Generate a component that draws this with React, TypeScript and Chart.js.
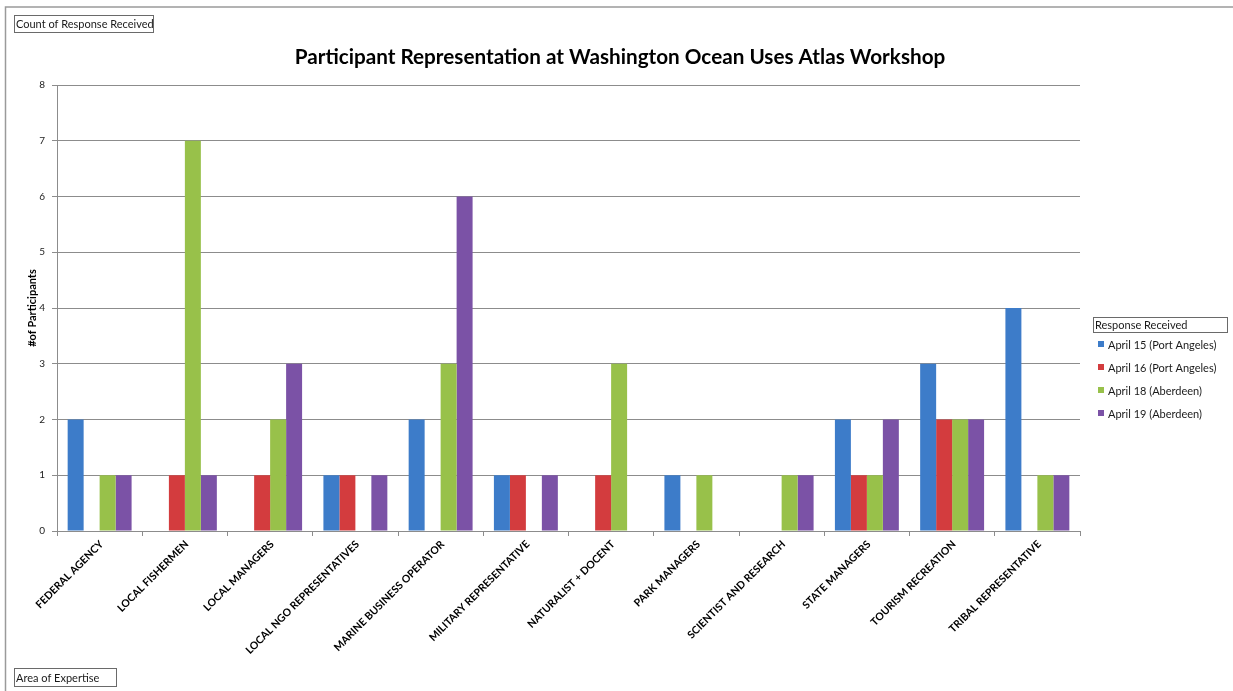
import React, { useEffect, useRef } from "react";
import { Chart, registerables } from "chart.js";

Chart.register(...registerables);

const categories = [
  "FEDERAL AGENCY",
  "LOCAL FISHERMEN",
  "LOCAL MANAGERS",
  "LOCAL NGO REPRESENTATIVES",
  "MARINE BUSINESS OPERATOR",
  "MILITARY REPRESENTATIVE",
  "NATURALIST + DOCENT",
  "PARK MANAGERS",
  "SCIENTIST AND RESEARCH",
  "STATE MANAGERS",
  "TOURISM RECREATION",
  "TRIBAL REPRESENTATIVE",
];

const april15PortAngeles = [2, 0, 0, 1, 2, 1, 0, 1, 0, 2, 3, 4];
const april16PortAngeles = [0, 1, 1, 1, 0, 1, 1, 0, 0, 1, 2, 0];
const april18Aberdeen = [1, 7, 2, 0, 3, 0, 3, 1, 1, 1, 2, 1];
const april19Aberdeen = [1, 1, 3, 1, 6, 1, 0, 0, 1, 2, 2, 1];

const seriesNames = [
  "April 15 (Port Angeles)",
  "April 16 (Port Angeles)",
  "April 18 (Aberdeen)",
  "April 19 (Aberdeen)",
];
const seriesColors = ["#3d7cc9", "#d33c3e", "#98c14a", "#7b52a6"];

const yTicks = [0, 1, 2, 3, 4, 5, 6, 7, 8];

const chartTitle = "Participant Representation at Washington Ocean Uses Atlas Workshop";
const yAxisTitle = "#of Participants";
const valueFieldLabel = "Count of Response Received";
const categoryFieldLabel = "Area of Expertise";
const legendTitle = "Response Received";

const FONT = "Lato, 'Open Sans', sans-serif";
const GRID = "#8c8c8c";

// Draws the outer frame, the title, the field buttons and the boxed legend.
const decorations = {
  id: "decorations",
  afterDraw(chart: any) {
    const ctx = chart.ctx as CanvasRenderingContext2D;
    ctx.save();

    // outer frame
    ctx.strokeStyle = "#9a9a9a";
    ctx.lineWidth = 1.5;
    ctx.strokeRect(5.5, 7, 1240, 700);

    // chart title
    ctx.fillStyle = "#000000";
    ctx.font = `bold 20.7px ${FONT}`;
    ctx.textAlign = "center";
    ctx.textBaseline = "middle";
    ctx.fillText(chartTitle, 620, 57);

    const boxLabel = (text: string, x: number, y: number, w: number, h: number) => {
      ctx.fillStyle = "#ffffff";
      ctx.fillRect(x, y, w, h);
      ctx.strokeStyle = "#6a6a6a";
      ctx.lineWidth = 1;
      ctx.strokeRect(x + 0.5, y + 0.5, w, h);
      ctx.fillStyle = "#1a1a1a";
      ctx.font = `11px ${FONT}`;
      ctx.textAlign = "left";
      ctx.textBaseline = "middle";
      ctx.fillText(text, x + 2, y + h / 2 + 1);
    };

    boxLabel(valueFieldLabel, 14, 15, 139, 17);
    boxLabel(categoryFieldLabel, 14, 668, 102, 18);

    // legend
    boxLabel(legendTitle, 1093, 317, 134, 15);
    const datasets = chart.data.datasets;
    datasets.forEach((ds: any, i: number) => {
      const cy = 344 + i * 23;
      ctx.fillStyle = ds.backgroundColor;
      ctx.fillRect(1098, cy - 3, 6, 6);
      ctx.fillStyle = "#1a1a1a";
      ctx.font = `11px ${FONT}`;
      ctx.textAlign = "left";
      ctx.textBaseline = "middle";
      ctx.fillText(ds.label, 1108, cy + 1);
    });

    ctx.restore();
  },
};

export default function App() {
  const canvasRef = useRef<HTMLCanvasElement | null>(null);

  useEffect(() => {
    document.body.style.margin = "0";
    document.body.style.background = "#ffffff";
    const canvas = canvasRef.current;
    if (!canvas) return;

    const seriesValues = [april15PortAngeles, april16PortAngeles, april18Aberdeen, april19Aberdeen];

    const chart = new Chart(canvas, {
      type: "bar",
      data: {
        labels: categories,
        datasets: seriesValues.map((values, i) => ({
          label: seriesNames[i],
          data: values,
          backgroundColor: seriesColors[i],
          borderWidth: 0,
          categoryPercentage: 0.75,
          barPercentage: 1.0,
        })),
      },
      options: {
        responsive: false,
        animation: false,
        devicePixelRatio: 1,
        layout: { padding: { top: 85, right: 153, bottom: 0, left: 0 } },
        plugins: {
          legend: { display: false },
          tooltip: { enabled: false },
          title: { display: false },
        },
        scales: {
          x: {
            grid: {
              display: true,
              drawOnChartArea: false,
              drawTicks: true,
              tickLength: 5,
              color: GRID,
              offset: true,
            },
            border: { color: GRID, width: 1 },
            ticks: {
              autoSkip: false,
              minRotation: 45,
              maxRotation: 45,
              padding: 2,
              labelOffset: 2,
              color: "#000000",
              font: { family: FONT, size: 10.5, weight: "bold" },
            },
            afterFit: (s: any) => {
              s.height = 160;
            },
          },
          y: {
            min: 0,
            max: 8,
            afterBuildTicks: (s: any) => {
              s.ticks = yTicks.map((v) => ({ value: v }));
            },
            grid: { color: GRID, lineWidth: 1, tickLength: 5, drawTicks: true },
            border: { color: GRID, width: 1 },
            ticks: {
              padding: 7,
              color: "#222222",
              font: { family: FONT, size: 10 },
            },
            title: {
              display: true,
              text: yAxisTitle,
              color: "#000000",
              font: { family: FONT, size: 11, weight: "bold", lineHeight: 1.2 },
              padding: { top: 25.4, bottom: 0 },
            },
            afterFit: (s: any) => {
              s.width = 57;
            },
          },
        },
      },
      plugins: [decorations],
    });

    return () => chart.destroy();
  }, []);

  return (
    <div style={{ width: 1233, height: 691, position: "relative", background: "#ffffff" }}>
      <canvas ref={canvasRef} width={1233} height={691} style={{ display: "block" }} />
    </div>
  );
}
